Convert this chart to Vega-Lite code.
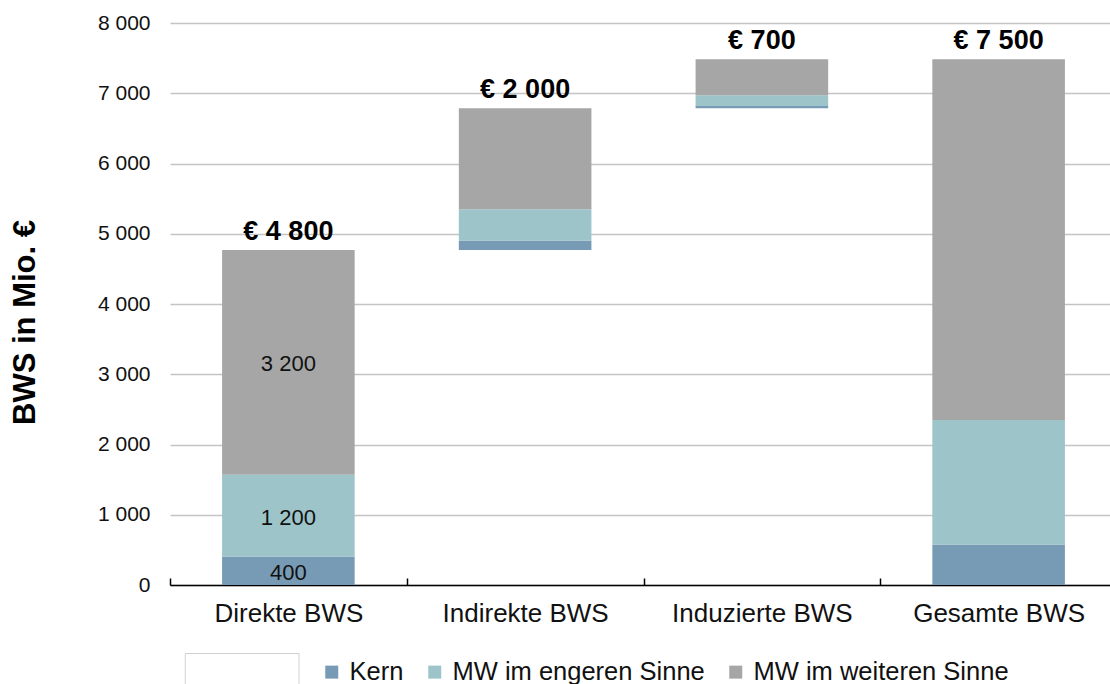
{
  "$schema": "https://vega.github.io/schema/vega-lite/v6.json",
  "autosize": {"type": "none"},
  "padding": {"left": 170, "top": 23, "right": 0, "bottom": 99},
  "width": 947,
  "height": 562,
  "background": "white",
  "config": {
    "font": "Liberation Sans",
    "view": {"stroke": null}
  },
  "datasets": {
    "segments": [
      {"cat": "Direkte BWS", "series": "Kern", "lo": 0, "hi": 405, "label": "400"},
      {"cat": "Direkte BWS", "series": "MW im engeren Sinne", "lo": 405, "hi": 1570, "label": "1 200"},
      {"cat": "Direkte BWS", "series": "MW im weiteren Sinne", "lo": 1570, "hi": 4770, "label": "3 200"},
      {"cat": "Indirekte BWS", "series": "Kern", "lo": 4770, "hi": 4905, "label": ""},
      {"cat": "Indirekte BWS", "series": "MW im engeren Sinne", "lo": 4905, "hi": 5350, "label": ""},
      {"cat": "Indirekte BWS", "series": "MW im weiteren Sinne", "lo": 5350, "hi": 6785, "label": ""},
      {"cat": "Induzierte BWS", "series": "Kern", "lo": 6785, "hi": 6820, "label": ""},
      {"cat": "Induzierte BWS", "series": "MW im engeren Sinne", "lo": 6820, "hi": 6970, "label": ""},
      {"cat": "Induzierte BWS", "series": "MW im weiteren Sinne", "lo": 6970, "hi": 7485, "label": ""},
      {"cat": "Gesamte BWS", "series": "Kern", "lo": 0, "hi": 575, "label": ""},
      {"cat": "Gesamte BWS", "series": "MW im engeren Sinne", "lo": 575, "hi": 2350, "label": ""},
      {"cat": "Gesamte BWS", "series": "MW im weiteren Sinne", "lo": 2350, "hi": 7485, "label": ""}
    ],
    "totals": [
      {"cat": "Direkte BWS", "top": 4770, "text": "€ 4 800"},
      {"cat": "Indirekte BWS", "top": 6785, "text": "€ 2 000"},
      {"cat": "Induzierte BWS", "top": 7485, "text": "€ 700"},
      {"cat": "Gesamte BWS", "top": 7485, "text": "€ 7 500"}
    ]
  },
  "layer": [
    {
      "data": {"name": "segments"},
      "mark": {"type": "bar", "width": {"band": 0.56}},
      "encoding": {
        "x": {
          "field": "cat", "type": "nominal",
          "sort": ["Direkte BWS", "Indirekte BWS", "Induzierte BWS", "Gesamte BWS"],
          "scale": {"paddingInner": 0, "paddingOuter": 0},
          "axis": {
            "title": null,
            "labelAngle": 0,
            "labelFontSize": 26,
            "labelColor": "#111",
            "labelPadding": 22,
            "labelLimit": 400,
            "domainColor": "#000",
            "domainWidth": 1.5,
            "tickColor": "#000",
            "tickBand": "extent",
            "tickSize": -7,
            "tickWidth": 1.5
          }
        },
        "y": {
          "field": "lo", "type": "quantitative",
          "scale": {"domain": [0, 8000], "nice": false},
          "axis": {
            "title": "BWS in Mio. €",
            "titleFontSize": 31,
            "titleFontWeight": "bold",
            "titleColor": "#000",
            "titleBaseline": "alphabetic",
            "titleX": -136,
            "titleY": 299,
            "values": [0, 1000, 2000, 3000, 4000, 5000, 6000, 7000, 8000],
            "labelExpr": "replace(format(datum.value, ','), ',', ' ')",
            "labelFontSize": 21,
            "labelColor": "#111",
            "labelPadding": 20,
            "domain": false,
            "ticks": false,
            "gridColor": "#c4c4c4",
            "gridWidth": 1.5
          }
        },
        "y2": {"field": "hi"},
        "color": {
          "field": "series", "type": "nominal",
          "scale": {
            "domain": ["Basis", "Kern", "MW im engeren Sinne", "MW im weiteren Sinne"],
            "range": ["#ffffff", "#789BB5", "#9DC4C8", "#A6A6A6"]
          },
          "legend": {
            "title": null,
            "orient": "none",
            "direction": "horizontal",
            "legendX": 9,
            "legendY": 633,
            "symbolType": "square",
            "symbolSize": 169,
            "labelFontSize": 25.5,
            "labelColor": "#111",
            "labelOffset": 5,
            "labelLimit": 400,
            "columnPadding": 18,
            "labelExpr": "datum.value === 'Basis' ? '' : datum.label",
            "encoding": {
              "symbols": {
                "shape": {"value": {"expr": "datum.value === 'Basis' ? 'M-1,-2.4H16.5V2.7H-1Z' : 'square'"}},
                "stroke": {"value": {"expr": "datum.value === 'Basis' ? '#d0d0d0' : 'transparent'"}},
                "strokeWidth": {"value": 1}
              }
            }
          }
        }
      }
    },
    {
      "data": {"name": "segments"},
      "transform": [
        {"filter": "datum.label !== ''"},
        {"calculate": "(datum.lo + datum.hi) / 2", "as": "mid"}
      ],
      "mark": {"type": "text", "fontSize": 22, "color": "#111", "baseline": "middle", "dy": 2},
      "encoding": {
        "x": {"field": "cat", "type": "nominal", "sort": ["Direkte BWS", "Indirekte BWS", "Induzierte BWS", "Gesamte BWS"]},
        "y": {"field": "mid", "type": "quantitative"},
        "text": {"field": "label"}
      }
    },
    {
      "data": {"name": "totals"},
      "mark": {"type": "text", "fontSize": 27, "fontWeight": "bold", "color": "#000", "baseline": "alphabetic", "dy": -10},
      "encoding": {
        "x": {"field": "cat", "type": "nominal", "sort": ["Direkte BWS", "Indirekte BWS", "Induzierte BWS", "Gesamte BWS"]},
        "y": {"field": "top", "type": "quantitative"},
        "text": {"field": "text"}
      }
    }
  ]
}
